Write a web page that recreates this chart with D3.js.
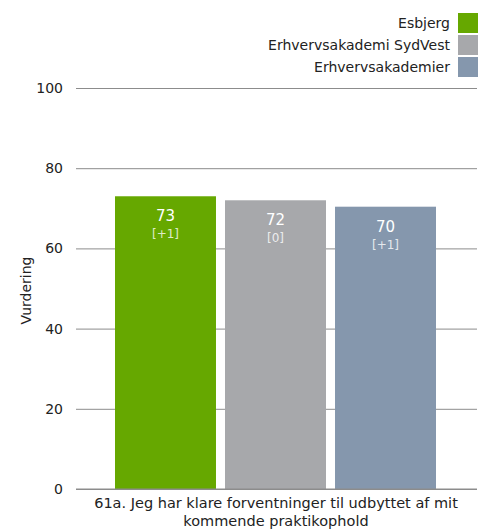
<!DOCTYPE html>
<html>
<head>
<meta charset="utf-8">
<script src="https://cdn.jsdelivr.net/npm/d3@7"></script>
<style>
  body { margin: 0; background: #fff; }
  svg text { font-family: Tahoma, "DejaVu Sans", sans-serif; }
</style>
</head>
<body>
<div id="chart"></div>
<script>
// Données
const series = ["Esbjerg", "Erhvervsakademi SydVest", "Erhvervsakademier"];
const values = [73, 72, 70.4];
const valueLabels = ["73", "72", "70"];
const deltas = ["[+1]", "[0]", "[+1]"];
const colors = ["#66a800", "#a7a8ab", "#8597ad"];
const yTicks = [0, 20, 40, 60, 80, 100];
const categoryLines = ["61a. Jeg har klare forventninger til udbyttet af mit", "kommende praktikophold"];

const width = 488;
const height = 532;
const margin = { top: 88, right: 11, bottom: 43, left: 76 };

const svg = d3.select("#chart")
  .append("svg")
  .attr("width", width)
  .attr("height", height);

// Echelles
const y = d3.scaleLinear()
  .domain([0, 100])
  .range([height - margin.bottom, margin.top]);

const x = d3.scaleBand()
  .domain(series)
  .range([115, 436])
  .paddingInner(0.082)
  .paddingOuter(0);

// Grille + axe vertical
const yAxis = svg.append("g")
  .attr("transform", `translate(${margin.left}, 0)`)
  .call(d3.axisLeft(y).tickValues(yTicks).tickSize(-(width - margin.left - margin.right)).tickPadding(13));
yAxis.select(".domain").remove();
yAxis.selectAll(".tick line").attr("stroke", "#8c8c8c");
yAxis.selectAll(".tick text")
  .attr("fill", "#222")
  .style("font-size", "14px");

svg.append("text")
  .attr("transform", `translate(31, ${(y(0) + y(100)) / 2 + 2}) rotate(-90)`)
  .attr("text-anchor", "middle")
  .attr("fill", "#222")
  .style("font-size", "14px")
  .text("Vurdering");

// Barres
const bars = svg.append("g");
bars.selectAll("rect")
  .data(series)
  .join("rect")
  .attr("x", d => x(d))
  .attr("y", (d, i) => y(values[i]))
  .attr("width", x.bandwidth())
  .attr("height", (d, i) => y(0) - y(values[i]))
  .attr("fill", (d, i) => colors[i]);

bars.selectAll("text.val")
  .data(series)
  .join("text")
  .attr("class", "val")
  .attr("x", d => x(d) + x.bandwidth() / 2)
  .attr("y", (d, i) => y(values[i]) + 25)
  .attr("text-anchor", "middle")
  .attr("fill", "#fff")
  .style("font-size", "15px")
  .text((d, i) => valueLabels[i]);

bars.selectAll("text.delta")
  .data(series)
  .join("text")
  .attr("class", "delta")
  .attr("x", d => x(d) + x.bandwidth() / 2)
  .attr("y", (d, i) => y(values[i]) + 42)
  .attr("text-anchor", "middle")
  .attr("fill", "rgba(255,255,255,0.8)")
  .style("font-size", "12px")
  .text((d, i) => deltas[i]);

// Ligne zéro
svg.append("line")
  .attr("x1", margin.left)
  .attr("x2", width - margin.right)
  .attr("y1", y(0))
  .attr("y2", y(0))
  .attr("stroke", "#8c8c8c");

// Libellé de catégorie
svg.append("g")
  .selectAll("text")
  .data(categoryLines)
  .join("text")
  .attr("x", 276)
  .attr("y", (d, i) => 508 + i * 18)
  .attr("text-anchor", "middle")
  .attr("fill", "#222")
  .style("font-size", "14.5px")
  .text(d => d);

// Légende
const legend = svg.append("g");
legend.selectAll("rect")
  .data(series)
  .join("rect")
  .attr("x", 458)
  .attr("y", (d, i) => 13 + i * 22)
  .attr("width", 20)
  .attr("height", 20)
  .attr("fill", (d, i) => colors[i]);

legend.selectAll("text")
  .data(series)
  .join("text")
  .attr("x", 450)
  .attr("y", (d, i) => 28 + i * 22)
  .attr("text-anchor", "end")
  .attr("fill", "#222")
  .style("font-size", "14px")
  .text(d => d);
</script>
</body>
</html>
